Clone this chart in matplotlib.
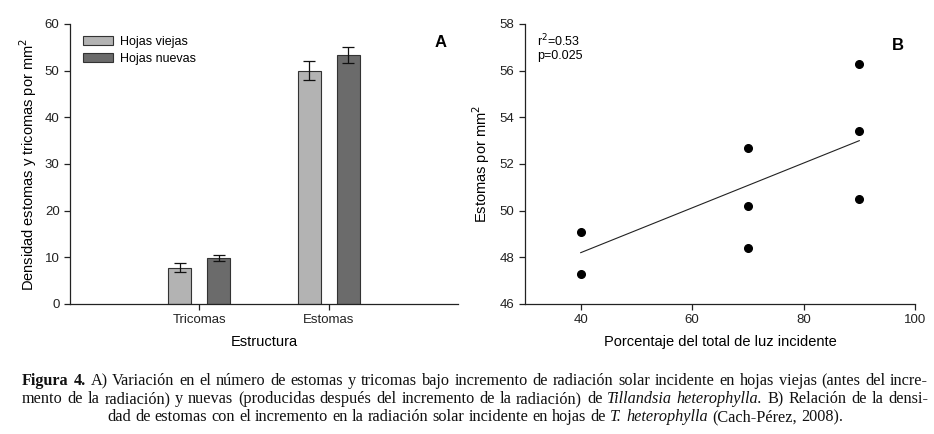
import numpy as np
import matplotlib
matplotlib.use('Agg')
import matplotlib.pyplot as plt
from matplotlib.patches import Patch

# --- data ---
categories = ['Tricomas', 'Estomas']
old_mean = [7.8, 50.0]
old_err = [1.0, 2.0]
new_mean = [9.8, 53.4]
new_err = [0.65, 1.7]
series_names = ['Hojas viejas', 'Hojas nuevas']

light_pct = [40, 40, 70, 70, 70, 90, 90, 90]
stomata = [49.1, 47.3, 52.7, 50.2, 48.4, 56.3, 53.4, 50.5]
fit_x = [40, 90]
fit_y = [48.2, 53.0]
stats_text = 'r$^2$=0.53\np=0.025'

caption_lines = [
    [('Figura 4.', 'bold', 'normal'),
     ('A) Variación en el número de estomas y tricomas bajo incremento de radiación solar incidente en hojas viejas (antes del incre-', 'normal', 'normal')],
    [('mento de la radiación) y nuevas (producidas después del incremento de la radiación) de', 'normal', 'normal'),
     ('Tillandsia heterophylla.', 'normal', 'italic'),
     ('B) Relación de la densi-', 'normal', 'normal')],
    [('dad de estomas con el incremento en la radiación solar incidente en hojas de', 'normal', 'normal'),
     ('T. heterophylla', 'normal', 'italic'),
     ('(Cach-Pérez, 2008).', 'normal', 'normal')],
]

plt.rcParams['font.family'] = ['Liberation Sans', 'DejaVu Sans']
plt.rcParams['axes.linewidth'] = 0.9
plt.rcParams['axes.edgecolor'] = '#222222'

W, H = 934, 434
fig = plt.figure(figsize=(W / 100, H / 100), dpi=100, facecolor='white')

def ax_rect(l, t, r, b):
    return [l / W, 1 - b / H, (r - l) / W, (b - t) / H]

# ---------------- Panel A ----------------
axA = fig.add_axes(ax_rect(70, 24, 458, 304))
pos = np.arange(1, len(categories) + 1)
bw = 0.177
off = 0.15
ekw = dict(elinewidth=0.9, capthick=0.9, ecolor='#111111')
axA.bar(pos - off, old_mean, bw, yerr=old_err, capsize=4, color='#b3b3b3',
        edgecolor='#333333', linewidth=0.8, error_kw=ekw, label=series_names[0])
axA.bar(pos + off, new_mean, bw, yerr=new_err, capsize=4, color='#6b6b6b',
        edgecolor='#333333', linewidth=0.8, error_kw=ekw, label=series_names[1])
axA.set_xlim(0, 3)
axA.set_ylim(0, 60)
axA.set_yticks(range(0, 61, 10))
axA.set_xticks(pos)
axA.set_xticklabels(categories)
axA.set_xlabel('Estructura', fontsize=10.5, labelpad=6)
axA.set_ylabel('Densidad estomas y tricomas por mm$^2$', fontsize=10.5, labelpad=4)
for s in ['top', 'right']:
    axA.spines[s].set_visible(False)
axA.tick_params(direction='out', length=4, width=0.9, labelsize=9.5, colors='#222222')
handles = [Patch(facecolor='#b3b3b3', edgecolor='#333333', linewidth=0.8),
           Patch(facecolor='#6b6b6b', edgecolor='#333333', linewidth=0.8)]
axA.legend(handles, series_names, loc='upper left', bbox_to_anchor=(0.02, 0.975),
           frameon=False, fontsize=9, handlelength=2.4, handleheight=0.7,
           handletextpad=0.6, labelspacing=0.4, borderaxespad=0)
axA.text(0.955, 0.935, 'A', transform=axA.transAxes, fontsize=12, fontweight='bold',
         ha='center', va='center')

# ---------------- Panel B ----------------
axB = fig.add_axes(ax_rect(525, 24, 915, 304))
axB.plot(fit_x, fit_y, color='#222222', linewidth=0.8)
axB.plot(light_pct, stomata, 'o', color='black', markersize=5.5)
axB.set_xlim(30, 100)
axB.set_ylim(46, 58)
axB.set_xticks(range(40, 101, 20))
axB.set_yticks(range(46, 59, 2))
axB.set_xlabel('Porcentaje del total de luz incidente', fontsize=10.5, labelpad=6)
axB.set_ylabel('Estomas por mm$^2$', fontsize=10.5, labelpad=6)
for s in ['top', 'right']:
    axB.spines[s].set_visible(False)
axB.tick_params(direction='out', length=4, width=0.9, labelsize=9.5, colors='#222222')
axB.text(0.03, 0.97, stats_text, transform=axB.transAxes, fontsize=9,
         ha='left', va='top', linespacing=1.1)
axB.text(0.955, 0.925, 'B', transform=axB.transAxes, fontsize=12, fontweight='bold',
         ha='center', va='center')

# ---------------- caption (justified, last line centred) ----------------
renderer = fig.canvas.get_renderer()
cap_font = 'Liberation Serif'
x_left, x_right = 22, 928
baseline_y = [385, 403, 421]


def words_of(line):
    out = []
    for txt, weight, style in line:
        for w in txt.split(' '):
            out.append((w, weight, style))
    return out


def measure(s, size, weight='normal', style='normal'):
    t = fig.text(0, 0, s, fontsize=size, family=cap_font, fontweight=weight, fontstyle=style)
    w = t.get_window_extent(renderer).width
    t.remove()
    return w


def natural_width(words, size):
    sp = measure('a a', size) - measure('aa', size)
    return sum(measure(w, size, wt, st) for w, wt, st in words) + sp * (len(words) - 1)


# biggest size at which the justified lines still fit with a little slack
probe = 10.0
widest = max(natural_width(words_of(l), probe) for l in caption_lines[:-1])
cap_size = probe * 0.985 * (x_right - x_left) / widest
space = measure('a a', cap_size) - measure('aa', cap_size)

for i, line in enumerate(caption_lines):
    words = words_of(line)
    widths = [measure(w, cap_size, wt, st) for w, wt, st in words]
    if i < len(caption_lines) - 1:
        gap = (x_right - x_left - sum(widths)) / (len(words) - 1)
        x = x_left
    else:
        gap = space
        total = sum(widths) + gap * (len(words) - 1)
        x = (x_left + x_right) / 2 - total / 2
    for (w, wt, st), wd in zip(words, widths):
        fig.text(x / W, 1 - baseline_y[i] / H, w, fontsize=cap_size, family=cap_font,
                 fontweight=wt, fontstyle=st, va='baseline', ha='left', color='#111111')
        x += wd + gap

fig.savefig('out.png', dpi=100, facecolor='white')
